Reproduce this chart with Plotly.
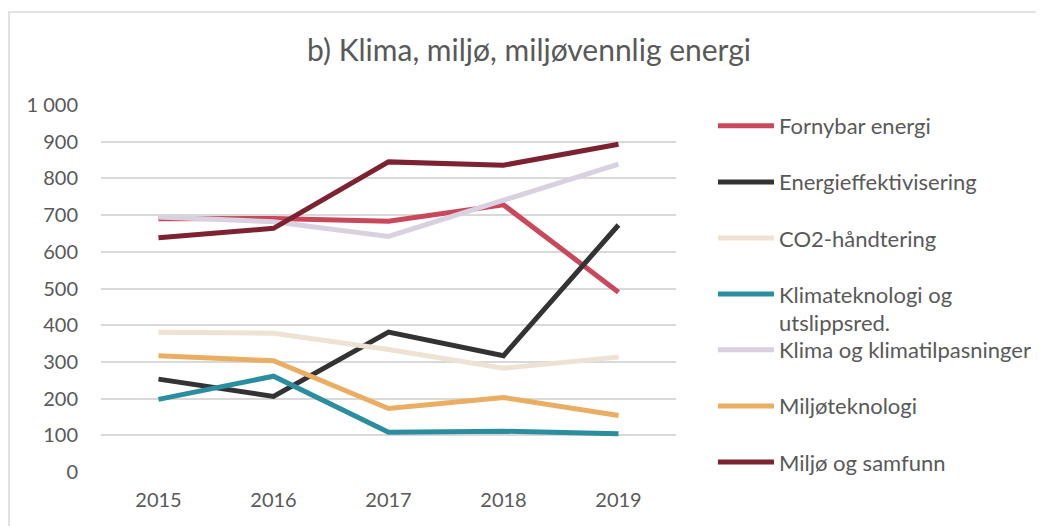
import plotly.graph_objects as go

years = ["2015", "2016", "2017", "2018", "2019"]

fornybar_energi = [690, 691, 683, 728, 490]
energieffektivisering = [253, 206, 381, 317, 673]
co2_handtering = [381, 378, 334, 283, 313]
klimateknologi = [198, 261, 108, 111, 104]
klima_tilpasning = [695, 682, 642, 741, 839]
miljoteknologi = [317, 303, 173, 203, 154]
miljo_samfunn = [638, 664, 845, 836, 893]

series_names = [
    "Fornybar energi",
    "Energieffektivisering",
    "CO2-håndtering",
    "Klimateknologi og<br>utslippsred.",
    "Klima og klimatilpasninger",
    "Miljøteknologi",
    "Miljø og samfunn",
]
series_values = [fornybar_energi, energieffektivisering, co2_handtering, klimateknologi,
                 klima_tilpasning, miljoteknologi, miljo_samfunn]
series_colors = ["#C9485B", "#333333", "#EDE2D4", "#2B8E9E", "#D9D0E0", "#EAAE62", "#7D2230"]
y_ticks = [0, 100, 200, 300, 400, 500, 600, 700, 800, 900, 1000]
y_tick_text = ["0", "100", "200", "300", "400", "500", "600", "700", "800", "900", "1 000"]

FONT = "Lato, 'Open Sans', sans-serif"
TXT = "#595959"

# The page body has an 8px margin, so the figure is 8px smaller and all
# positions below are in figure pixels (reference pixels minus 8).
W, H = 1036, 518
PL, PR, PT, PB = 93, 668, 97, 464  # plot area
PW, PH = PR - PL, PB - PT

fig = go.Figure()
for i, (name, vals, col) in enumerate(zip(series_names, series_values, series_colors)):
    fig.add_trace(go.Scatter(
        x=years, y=vals, name=name, mode="lines",
        line=dict(color=col, width=5),
        legendgroup=f"g{i}",
        legend="legend" if i < 4 else "legend2",
    ))

leg_common = dict(xanchor="left", yanchor="top",
                  font=dict(family=FONT, size=22, color=TXT), tracegroupgap=24.5,
                  valign="top", itemwidth=56, bgcolor="rgba(0,0,0,0)")
fig.update_layout(
    width=W, height=H,
    margin=dict(l=PL, r=W - PR, t=PT, b=H - PB, autoexpand=False),
    paper_bgcolor="white", plot_bgcolor="white",
    title=dict(text="b) Klima, miljø, miljøvennlig energi", x=521 / W, xanchor="center",
               y=1 - 42 / H, yanchor="middle",
               font=dict(family=FONT, size=30, color=TXT)),
    font=dict(family=FONT, color=TXT),
    xaxis=dict(type="category", range=[-0.5, 4.5], showgrid=False, showline=False, ticks="",
               tickfont=dict(size=20, color=TXT), ticklabelstandoff=14, automargin=False),
    yaxis=dict(range=[0, 1000], tickvals=y_ticks, ticktext=y_tick_text,
               showgrid=True, gridcolor="#D9D9D9", gridwidth=1.5, zeroline=False,
               showline=False, ticks="", tickfont=dict(size=20, color=TXT),
               ticklabelstandoff=22, automargin=False),
    legend=dict(x=(705 - PL) / PW, y=(PB - 97) / PH, **leg_common),
    legend2=dict(x=(705 - PL) / PW, y=(PB - 321) / PH, **leg_common),
    showlegend=True,
    shapes=[dict(type="rect", xref="paper", yref="paper",
                 x0=(1 - PL) / PW, x1=2.0, y0=-0.5, y1=(PB - 4) / PH,
                 line=dict(color="#D9D9D9", width=1.5), fillcolor="rgba(0,0,0,0)",
                 layer="below")],
)

fig.write_html("out.html")
